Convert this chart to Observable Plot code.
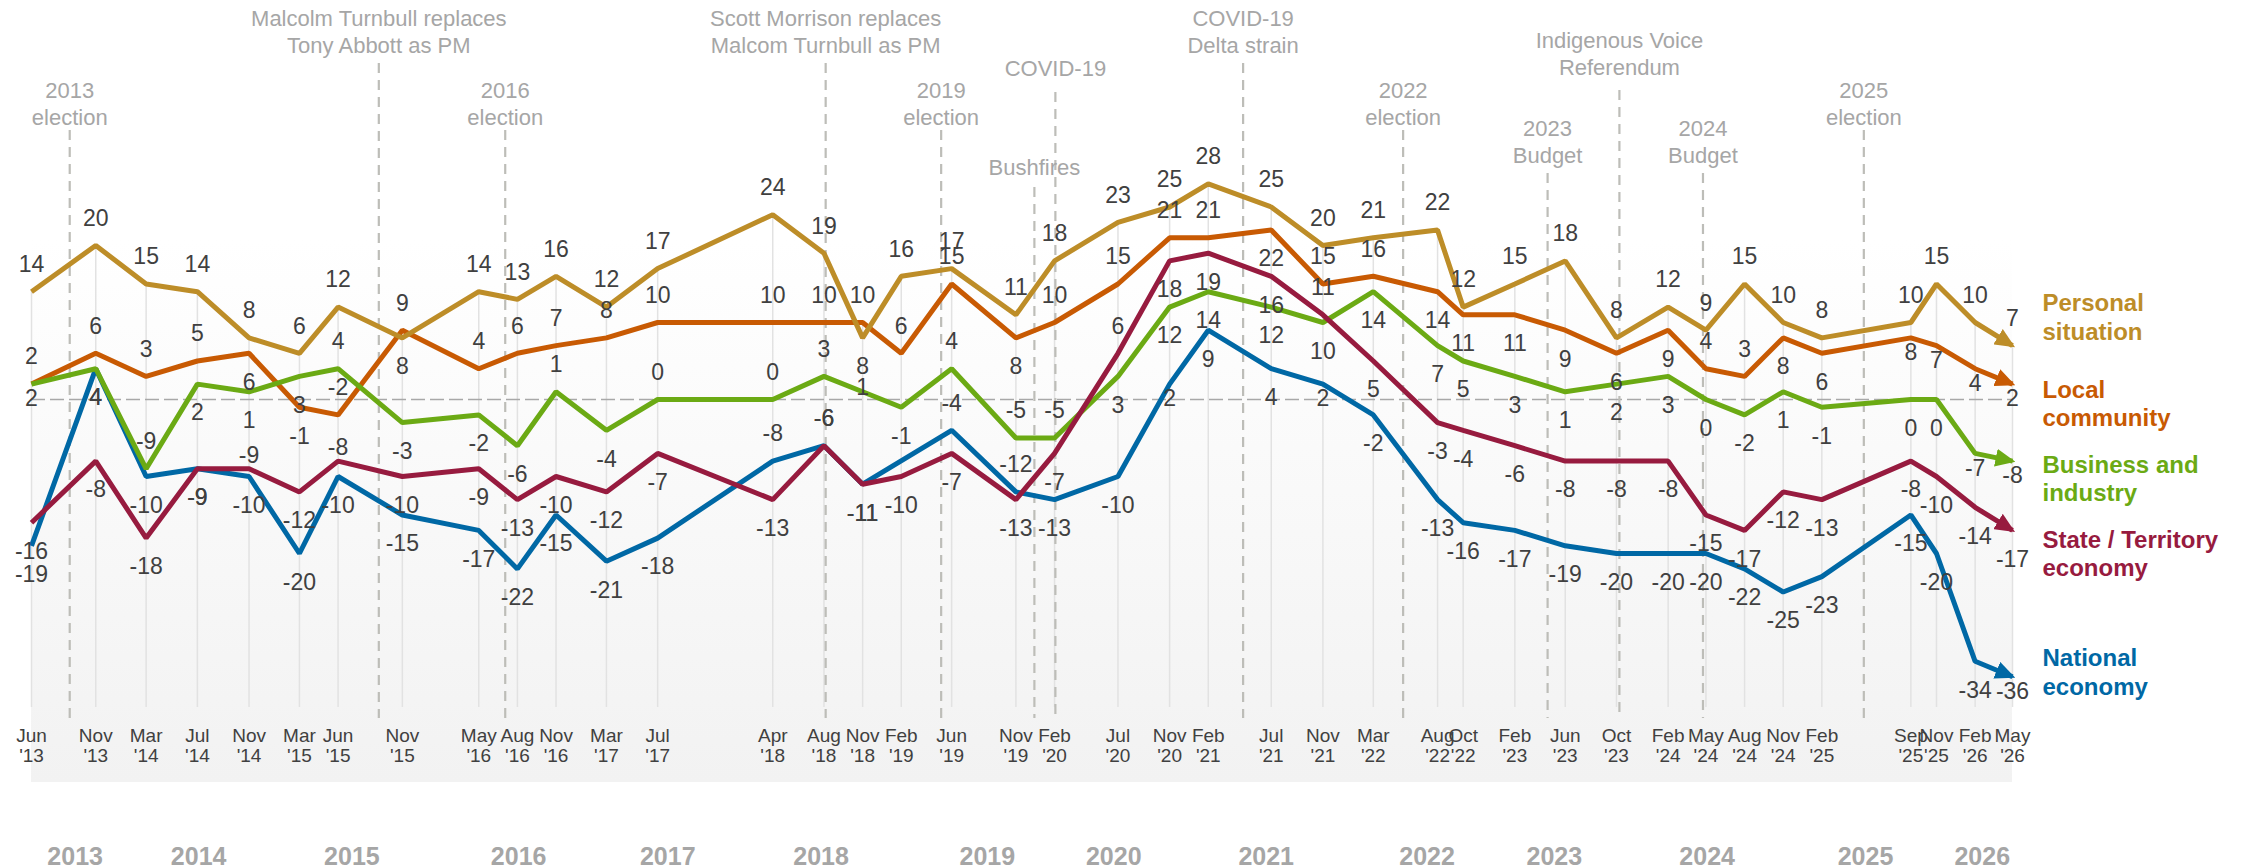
<!DOCTYPE html>
<html><head><meta charset="utf-8">
<script src="https://cdn.jsdelivr.net/npm/d3@7"></script>
<script src="https://cdn.jsdelivr.net/npm/@observablehq/plot@0.6"></script>
<style>body{margin:0;background:#fff} svg{display:block}</style>
</head><body>
<script>
// ---------- data ----------
const dateKeys = ["2013-06","2013-11","2014-03","2014-07","2014-11","2015-03","2015-06","2015-11","2016-05","2016-08","2016-11","2017-03","2017-07","2018-04","2018-08","2018-11","2019-02","2019-06","2019-11","2020-02","2020-07","2020-11","2021-02","2021-07","2021-11","2022-03","2022-08","2022-10","2023-02","2023-06","2023-10","2024-02","2024-05","2024-08","2024-11","2025-02","2025-09","2025-11","2026-02","2026-05"];

const personal = [14,20,15,14,8,6,12,8,14,13,16,12,17,24,19,8,16,17,11,18,23,25,28,25,20,21,22,12,15,18,8,12,9,15,10,8,10,15,10,7];
const local    = [2,6,3,5,6,-1,-2,9,4,6,7,8,10,10,10,10,6,15,8,10,15,21,21,22,15,16,14,11,11,9,6,9,4,3,8,6,8,7,4,2];
const business = [2,4,-9,2,1,3,4,-3,-2,-6,1,-4,0,0,3,1,-1,4,-5,-5,3,12,14,12,10,14,7,5,3,1,2,3,0,-2,1,-1,0,0,-7,-8];
const state    = [-16,-8,-18,-9,-9,-12,-8,-10,-9,-13,-10,-12,-7,-13,-6,-11,-10,-7,-13,-7,6,18,19,16,11,5,-3,-4,-6,-8,-8,-8,-15,-17,-12,-13,-8,-10,-14,-17];
const national = [-19,4,-10,-9,-10,-20,-10,-15,-17,-22,-15,-21,-18,-8,-6,-11,null,-4,-12,-13,-10,2,9,4,2,-2,-13,-16,-17,-19,-20,-20,-20,-22,-25,-23,-15,-20,-34,-36];

const seriesNames = ["Personal\nsituation","Local\ncommunity","Business and\nindustry","State / Territory\neconomy","National\neconomy"];

const events = [
  {date:"2013-08-31", label:"2013\nelection", tier:"B"},
  {date:"2015-09-06", label:"Malcolm Turnbull replaces\nTony Abbott as PM", tier:"A"},
  {date:"2016-07-03", label:"2016\nelection", tier:"B"},
  {date:"2018-08-05", label:"Scott Morrison replaces\nMalcom Turnbull as PM", tier:"A"},
  {date:"2019-05-07", label:"2019\nelection", tier:"B"},
  {date:"2019-12-15", label:"Bushfires", tier:"F"},
  {date:"2020-02-03", label:"COVID-19", tier:"C"},
  {date:"2021-04-25", label:"COVID-19\nDelta strain", tier:"A"},
  {date:"2022-05-11", label:"2022\nelection", tier:"B"},
  {date:"2023-04-20", label:"2023\nBudget", tier:"E"},
  {date:"2023-10-08", label:"Indigenous Voice\nReferendum", tier:"D"},
  {date:"2024-04-24", label:"2024\nBudget", tier:"E"},
  {date:"2025-05-12", label:"2025\nelection", tier:"B"}
];

const yearLabels = [
  {date:"2013-09-13", label:"2013"},{date:"2014-07-04", label:"2014"},{date:"2015-07-04", label:"2015"},
  {date:"2016-08-04", label:"2016"},{date:"2017-07-25", label:"2017"},{date:"2018-07-25", label:"2018"},
  {date:"2019-08-25", label:"2019"},{date:"2020-06-21", label:"2020"},{date:"2021-06-19", label:"2021"},
  {date:"2022-07-07", label:"2022"},{date:"2023-05-06", label:"2023"},{date:"2024-05-04", label:"2024"},
  {date:"2025-05-16", label:"2025"},{date:"2026-02-18", label:"2026"}
];

// ---------- layout / style ----------
const colors = ["#BD8D28","#C85A03","#6BAA14","#971B3F","#0068A5"];
// label placement codes: a above, b below, c on line, d slightly below, e slightly above
const labelPos = [
  "aaaaaaab"+"aaaaaaab"+"aaaaaaaa"+"aaaaaaaa"+"aaaaaaaa",
  "aaaabbaa"+"aaaaaaaa"+"aabaaaab"+"aabbbbbb"+"aabbdddd",
  "dbabbbab"+"bbabaaac"+"baaabbbb"+"bbbbbbbb"+"bbbbbbdd",
  "bbbbebeb"+"bbbbbbab"+"bbbbabbb"+"abbbbbbb"+"bbbbbbbb",
  "bbbbbbbb"+"bbbbbaab"+"baabbdbb"+"dbbbbbbb"+"bbbbbbbd"
];
const posDy = {a:-27, b:29, c:-4, d:15, e:-13};
const tiers = { A:{text:30.5, top:63}, B:{text:102.5, top:130}, C:{text:67, top:92},
                D:{text:52.5, top:90}, E:{text:140, top:173}, F:{text:166, top:187} };
const legendCenters = [316, 402.5, 477.5, 552.5, 671];
const drawOrder = [4,1,0,2,3];

const Y0 = 399, K = 7.7, H = 868, W = 2244, FRAME_BOTTOM = 712;
const yPx = px => (Y0 - px) / K;

const parse = s => new Date(s.length === 7 ? s + "-01T00:00:00Z" : s + "T00:00:00Z");
const dates = dateKeys.map(parse);
const allSeries = [personal, local, business, state, national];

const points = [];
allSeries.forEach((vals, si) => vals.forEach((v, i) => {
  if (v !== null) points.push({s: si, date: dates[i], value: v, pos: labelPos[si][i]});
}));
const tops = dates.map((d, i) => ({date: d, top: d3.max(allSeries, s => s[i])}));
const ev = events.map(e => ({...e, d: parse(e.date)}));
const yrs = yearLabels.map(e => ({...e, d: parse(e.date)}));
const legend = seriesNames.map((n, i) => ({name: n, i}));

const fmtM = d3.utcFormat("%b"), fmtY = d3.utcFormat("%y");

const marks = [
  Plot.rect([0], {x1: () => dates[0], x2: () => dates[dates.length-1], y1: () => yPx(782), y2: () => yPx(240), fill: "#f2f2f2"}),
  Plot.ruleX(tops, {x: "date", y1: "top", y2: () => yPx(707), stroke: "#e2e2e2", strokeWidth: 1.5}),
  Plot.ruleY([0], {x1: () => dates[0], x2: () => dates[dates.length-1], stroke: "#a8a8a8", strokeWidth: 1.6, strokeDasharray: "14,5"}),
  Plot.ruleX(ev, {x: "d", y1: d => yPx(tiers[d.tier].top), y2: () => yPx(718), stroke: "#bdbdb8", strokeWidth: 2.2, strokeDasharray: "10,7"}),
  ...drawOrder.map(si => Plot.line(points.filter(p => p.s === si), {x: "date", y: "value", stroke: colors[si], strokeWidth: 5, strokeLinejoin: "miter", strokeLinecap: "butt"})),
  ...Object.keys(posDy).map(code => Plot.text(points.filter(p => p.pos === code), {x: "date", y: "value", text: d => String(d.value), dy: posDy[code], fontSize: 23, fill: "#404040"})),
  Plot.text(ev, {x: "d", y: d => yPx(tiers[d.tier].text), text: "label", fontSize: 22, lineHeight: 1.23, fill: "#a6a6a6", lineAnchor: "middle"}),
  Plot.text(legend, {x: () => dates[dates.length-1], y: d => yPx(legendCenters[d.i]), text: "name", dx: 30, textAnchor: "start", lineAnchor: "middle", fontSize: 24, fontWeight: "bold", lineHeight: 1.19, fill: d => colors[d.i]}),
  Plot.text(yrs, {x: "d", y: () => yPx(856), text: "label", fontSize: 25, fontWeight: "bold", fill: "#a6a6a6"}),
  Plot.axisX({ticks: dates, tickFormat: d => fmtM(d) + "\n'" + fmtY(d), tickSize: 0, tickPadding: 15, fontSize: 19, lineHeight: 1.05, fill: "#404040", label: null})
];

const svg = Plot.plot({
  width: W, height: H,
  marginLeft: 31, marginRight: W - 2012, marginTop: 0, marginBottom: H - FRAME_BOTTOM,
  x: {type: "utc", domain: [dates[0], dates[dates.length-1]]},
  y: {domain: [yPx(FRAME_BOTTOM), yPx(0)], axis: null},
  style: {fontFamily: "'Liberation Sans', Arial, sans-serif", background: "#ffffff", overflow: "visible"},
  marks
});

const sel = d3.select(svg);
const defs = sel.insert("defs", ":first-child");
const grad = defs.append("linearGradient").attr("id", "bgGrad").attr("x1", 0).attr("y1", 0).attr("x2", 0).attr("y2", 1);
grad.append("stop").attr("offset", "0").attr("stop-color", "#ffffff");
grad.append("stop").attr("offset", "1").attr("stop-color", "#f2f2f2");
sel.select('g[aria-label="rect"]').attr("fill", "url(#bgGrad)");
sel.selectAll('g[aria-label="rect"] rect').attr("fill", null);

drawOrder.forEach((si, k) => {
  defs.append("marker").attr("id", "arr" + si)
    .attr("viewBox", "0 0 20 18").attr("refX", 17).attr("refY", 9)
    .attr("markerWidth", 20).attr("markerHeight", 18)
    .attr("markerUnits", "userSpaceOnUse").attr("orient", "auto")
    .append("path").attr("d", "M0,0L20,9L0,18Z").attr("fill", colors[si]);
});
sel.selectAll('g[aria-label="line"]').each(function(_, k) {
  d3.select(this).selectAll("path").attr("marker-end", `url(#arr${drawOrder[k]})`);
});

document.body.appendChild(svg);
</script>
</body></html>
